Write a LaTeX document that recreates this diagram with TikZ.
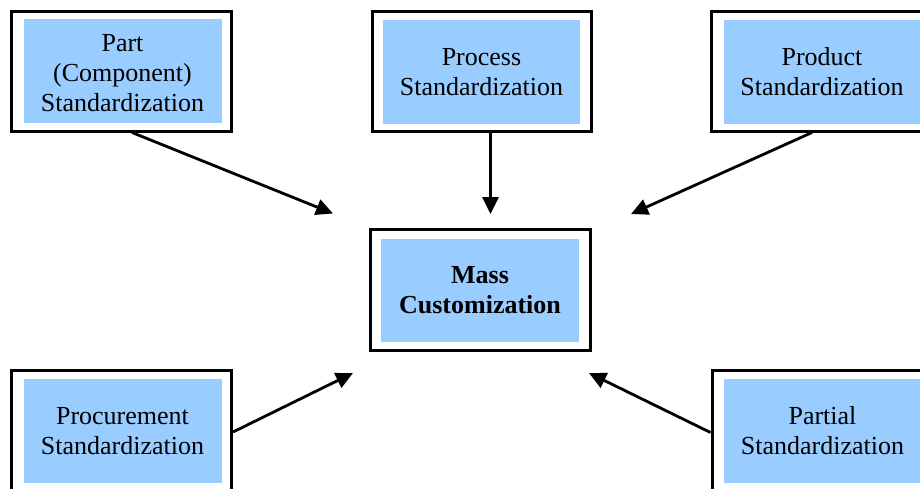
\documentclass[tikz,border=0pt]{standalone}
\usepackage{fontspec}
\setmainfont{Liberation Serif}
\usetikzlibrary{arrows.meta}
\definecolor{boxblue}{HTML}{99CCFF}
\tikzset{
  outerbox/.style={draw=black, line width=3pt, fill=white, minimum width=220pt, minimum height=120pt, inner sep=0pt},
  innerbox/.style={fill=boxblue, minimum width=198pt, minimum height=104pt, inner sep=0pt, align=center, font=\fontsize{26}{30}\selectfont},
  arr/.style={line width=2.8pt, -{Triangle[length=17pt,width=16pt]}}
}
\begin{document}
\begin{tikzpicture}[x=1pt,y=-1pt]
\useasboundingbox (0,0) rectangle (920,488);
\clip (0,0) rectangle (920,488);
% top row
\node[outerbox] (partO) at (121.5,71) {};
\node[innerbox] (part) at (122.5,71) {};
\node[align=center, font=\fontsize{26}{30}\selectfont, inner sep=0pt] (partT) at (122.5,73) {Part\\(Component)\\Standardization};
\node[outerbox, minimum width=219pt] (procO) at (481.5,71) {};
\node[innerbox, minimum width=197pt] (proc) at (481.5,72) {Process\\Standardization};
\node[outerbox] (prodO) at (821.5,71) {};
\node[innerbox, minimum width=197pt] (prod) at (822,72) {Product\\Standardization};
% centre
\node[outerbox, minimum height=121pt] (massO) at (480,289.5) {};
\node[innerbox, minimum height=103pt, font=\fontsize{26}{30}\selectfont\bfseries] (mass) at (480,290.5) {Mass\\Customization};
% bottom row
\node[outerbox, minimum height=121pt] (procuO) at (121.5,430.5) {};
\node[innerbox] (procu) at (122.5,431) {Procurement\\Standardization};
\node[outerbox, minimum height=121pt] (partialO) at (822,430.5) {};
\node[innerbox, minimum width=197pt] (partial) at (822.5,431) {Partial\\Standardization};
% arrow ends
\coordinate (t1) at (333,213.5);
\coordinate (t2) at (490.5,214);
\coordinate (t3) at (631,214);
\coordinate (t4) at (353,373);
\coordinate (t5) at (589,373);
\draw[arr] ([xshift=10.5pt]partO.south) -- (t1);
\draw[arr] ([xshift=9pt]procO.south) -- (t2);
\draw[arr] ([xshift=-9.5pt]prodO.south) -- (t3);
\draw[arr] ([yshift=-1.5pt]procuO.east) -- (t4);
\draw[arr] ([yshift=-2pt]partialO.west) -- (t5);
\end{tikzpicture}
\end{document}
